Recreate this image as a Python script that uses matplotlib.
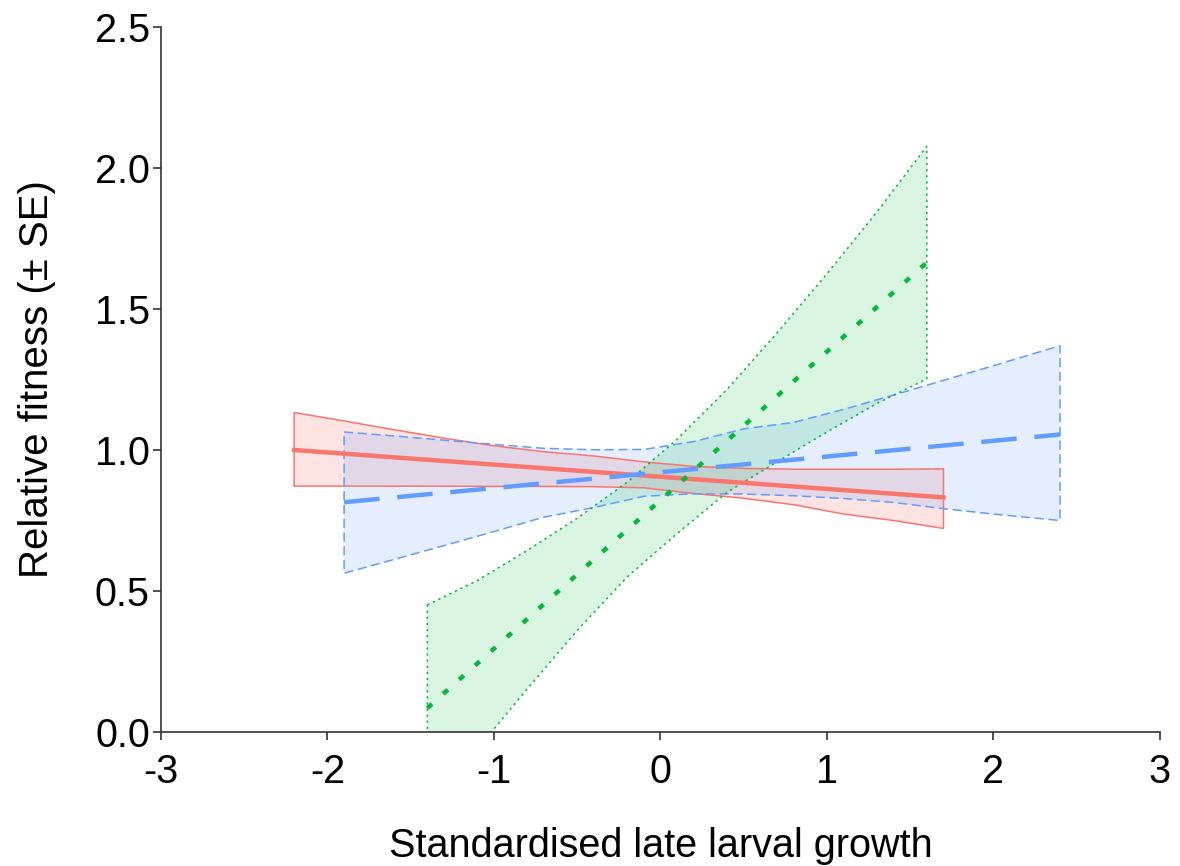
import matplotlib
matplotlib.use("Agg")
import matplotlib.pyplot as plt
import numpy as np

plt.rcParams['font.family'] = ['Liberation Sans', 'DejaVu Sans']

# fitted lines (end points) and SE bands
red_fit_x = [-2.2, 1.7]
red_fit_y = [1.000, 0.832]
red_band_x = [-2.2, -1.9, -1.6, -1.3, -1.0, -0.7, -0.4, -0.1, 0.2, 0.5, 0.8, 1.1, 1.4, 1.7]
red_upper = [1.133, 1.103, 1.072, 1.042, 1.015, 0.994, 0.979, 0.958, 0.942, 0.935, 0.932, 0.932, 0.932, 0.933]
red_lower = [0.872, 0.872, 0.872, 0.872, 0.871, 0.871, 0.870, 0.866, 0.846, 0.829, 0.806, 0.773, 0.750, 0.722]

blue_fit_x = [-1.9, 2.4]
blue_fit_y = [0.815, 1.055]
blue_band_x = [-1.9, -1.6, -1.3, -1.0, -0.7, -0.4, -0.1, 0.2, 0.5, 0.8, 1.1, 1.4, 1.7, 2.0, 2.4]
blue_upper = [1.064, 1.050, 1.035, 1.020, 1.006, 1.001, 1.002, 1.030, 1.075, 1.098, 1.144, 1.195, 1.247, 1.299, 1.370]
blue_lower = [0.563, 0.612, 0.661, 0.711, 0.762, 0.796, 0.836, 0.845, 0.844, 0.838, 0.828, 0.814, 0.792, 0.773, 0.750]

green_fit_x = [-1.4, 1.6]
green_fit_y = [0.085, 1.665]
green_band_x = [-1.4, -1.1, -0.8, -0.5, -0.2, 0.1, 0.4, 0.7, 1.0, 1.3, 1.6]
green_upper = [0.451, 0.537, 0.644, 0.758, 0.886, 1.038, 1.215, 1.415, 1.625, 1.844, 2.077]
green_lower = [-0.29, -0.06, 0.153, 0.360, 0.550, 0.704, 0.850, 0.958, 1.064, 1.165, 1.252]

x_ticks = [-3, -2, -1, 0, 1, 2, 3]
y_ticks = [0.0, 0.5, 1.0, 1.5, 2.0, 2.5]

# (fit x, fit y, band x, upper, lower, colour, band edge style, fit style, fill alpha)
series = [
    (red_fit_x, red_fit_y, red_band_x, red_upper, red_lower, '#F8766D', '-', '-', 0.2),
    (blue_fit_x, blue_fit_y, blue_band_x, blue_upper, blue_lower, '#619CFF', (0, (6, 3)), (0, (8, 4)), 0.17),
    (green_fit_x, green_fit_y, green_band_x, green_upper, green_lower, '#00BA38', (0, (1.5, 2.5)), (0, (1.4, 3.4)), 0.15),
]

fig = plt.figure(figsize=(11.8, 8.66), dpi=100)
ax = fig.add_axes([0.1364, 0.1547, 0.8466, 0.8141])

for fx, fy, bx, up, lo, col, ls, fls, a in series:
    px = list(bx) + list(bx[::-1])
    py = list(up) + list(lo[::-1])
    ax.fill(px, py, facecolor=col, alpha=a, edgecolor='none', zorder=1)
    ax.fill(px, py, facecolor='none', edgecolor=col, linestyle=ls, linewidth=1.1, zorder=2)

for fx, fy, bx, up, lo, col, ls, fls, a in series:
    ax.plot(fx, fy, color=col, linewidth=3.2, linestyle=fls, zorder=3)

ax.set_xlim(-3, 3)
ax.set_ylim(0, 2.5)
ax.set_xticks(x_ticks)
ax.set_xticklabels([str(t) for t in x_ticks])
ax.set_yticks(y_ticks)
ax.set_yticklabels(['%.1f' % t for t in y_ticks])

for s in ['top', 'right']:
    ax.spines[s].set_visible(False)
for s in ['left', 'bottom']:
    ax.spines[s].set_linewidth(1.2)
    ax.spines[s].set_color('#333333')

ax.tick_params(axis='both', direction='out', length=6, width=1.2, color='#333333',
               labelsize=28.5, pad=2)
ax.tick_params(axis='x', pad=9)

ax.set_xlabel('Standardised late larval growth', fontsize=28.5, labelpad=26)
ax.set_ylabel('Relative fitness (\u00b1 SE)', fontsize=29, labelpad=28)

fig.savefig('out.png', dpi=100)
